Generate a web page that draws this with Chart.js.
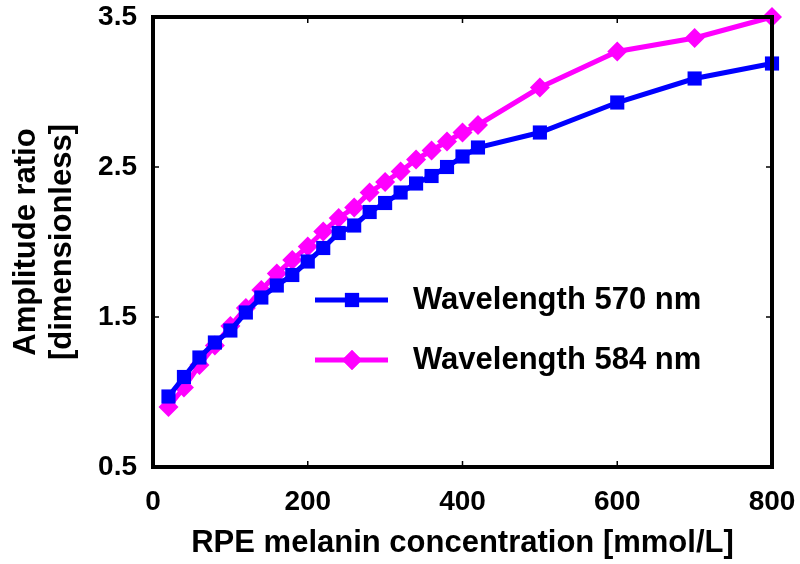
<!DOCTYPE html>
<html>
<head>
<meta charset="utf-8">
<script src="https://cdn.jsdelivr.net/npm/chart.js@4/dist/chart.umd.min.js"></script>
<style>
  html, body { margin: 0; padding: 0; background: #fff; }
  #wrap { width: 800px; height: 564px; }
</style>
</head>
<body>
<div id="wrap"><canvas id="chart" width="800" height="564"></canvas></div>
<script>
const concentrations = [20, 40, 60, 80, 100, 120, 140, 160, 180, 200, 220, 240, 260, 280, 300, 320, 340, 360, 380, 400, 420, 500, 600, 700, 800];
const ratio570 = [0.97, 1.10, 1.23, 1.33, 1.41, 1.53, 1.63, 1.71, 1.78, 1.87, 1.96, 2.06, 2.11, 2.20, 2.26, 2.33, 2.39, 2.44, 2.50, 2.57, 2.63, 2.73, 2.93, 3.09, 3.19];
const ratio584 = [0.90, 1.03, 1.18, 1.31, 1.44, 1.56, 1.68, 1.79, 1.88, 1.97, 2.07, 2.16, 2.23, 2.33, 2.40, 2.47, 2.55, 2.61, 2.67, 2.73, 2.78, 3.03, 3.27, 3.36, 3.50];
const seriesLabels = ["Wavelength 570 nm", "Wavelength 584 nm"];
const xTicks = [0, 200, 400, 600, 800];
const yTicks = [0.5, 1.5, 2.5, 3.5];

const FONT = "'Liberation Sans', Arial, sans-serif";

function toPoints(values) {
  return concentrations.map((x, i) => ({ x, y: values[i] }));
}

// frame, inward ticks and the legend drawn inside the plot
const framePlugin = {
  id: "frame",
  afterDraw(chart) {
    const { ctx, chartArea: a, scales } = chart;
    ctx.save();
    ctx.strokeStyle = "#000";
    ctx.lineWidth = 1.5;
    ctx.beginPath();
    xTicks.slice(1, -1).forEach((v) => {
      const px = scales.x.getPixelForValue(v);
      ctx.moveTo(px, a.bottom); ctx.lineTo(px, a.bottom - 6);
      ctx.moveTo(px, a.top); ctx.lineTo(px, a.top + 6);
    });
    yTicks.slice(1, -1).forEach((v) => {
      const py = scales.y.getPixelForValue(v);
      ctx.moveTo(a.left, py); ctx.lineTo(a.left + 6, py);
      ctx.moveTo(a.right, py); ctx.lineTo(a.right - 6, py);
    });
    ctx.stroke();
    ctx.lineWidth = 4;
    ctx.strokeRect(a.left, a.top, a.right - a.left, a.bottom - a.top);

    // legend
    chart.data.datasets.forEach((ds, i) => {
      const y = 300 + i * 60;
      ctx.strokeStyle = ds.borderColor;
      ctx.lineWidth = 5;
      ctx.beginPath();
      ctx.moveTo(315, y); ctx.lineTo(388, y);
      ctx.stroke();
      ctx.fillStyle = ds.pointBackgroundColor;
      Chart.helpers.drawPoint(ctx, { pointStyle: ds.pointStyle, radius: ds.pointRadius, borderWidth: 0 }, 352, y);
      ctx.fill();
      ctx.fillStyle = "#000";
      ctx.font = "bold 31px " + FONT;
      ctx.textBaseline = "middle";
      ctx.textAlign = "left";
      ctx.fillText(ds.label, 413, y);
    });
    ctx.restore();
  },
};

new Chart(document.getElementById("chart"), {
  type: "line",
  data: {
    datasets: [
      {
        label: seriesLabels[0],
        data: toPoints(ratio570),
        borderColor: "#0000ff",
        backgroundColor: "#0000ff",
        pointBackgroundColor: "#0000ff",
        pointBorderWidth: 0,
        pointStyle: "rect",
        pointRadius: 10,
        borderWidth: 5,
        clip: false,
      },
      {
        label: seriesLabels[1],
        data: toPoints(ratio584),
        borderColor: "#ff00ff",
        backgroundColor: "#ff00ff",
        pointBackgroundColor: "#ff00ff",
        pointBorderWidth: 0,
        pointStyle: "rectRot",
        pointRadius: 10,
        borderWidth: 5,
        clip: false,
      },
    ],
  },
  options: {
    responsive: false,
    animation: false,
    layout: { padding: { left: 0, right: 28, top: 17, bottom: 0 } },
    plugins: { legend: { display: false }, tooltip: { enabled: false } },
    scales: {
      x: {
        type: "linear",
        min: 0,
        max: 800,
        afterBuildTicks: (s) => { s.ticks = xTicks.map((v) => ({ value: v })); },
        afterFit: (s) => {
          s.height = 97;
          s.paddingLeft = 0;
          s.paddingRight = 0;
        },
        grid: { display: false, drawTicks: false },
        border: { display: false },
        ticks: { color: "#000", padding: 18, font: { family: FONT, size: 28, weight: "bold" } },
        title: {
          display: true,
          text: "RPE melanin concentration [mmol/L]",
          color: "#000",
          padding: { top: 0, bottom: 3 },
          font: { family: FONT, size: 31, weight: "bold", lineHeight: 1.15 },
        },
      },
      y: {
        min: 0.5,
        max: 3.5,
        afterBuildTicks: (s) => { s.ticks = yTicks.map((v) => ({ value: v })); },
        afterFit: (s) => {
          s.width = 153;
          s.paddingTop = 0;
          s.paddingBottom = 0;
        },
        grid: { display: false, drawTicks: false },
        border: { display: false },
        ticks: {
          color: "#000",
          padding: 16,
          font: { family: FONT, size: 28, weight: "bold" },
          callback: (v) => v.toFixed(1),
        },
        title: {
          display: true,
          text: ["Amplitude ratio", "[dimensionless]"],
          color: "#000",
          padding: { top: 9, bottom: 0 },
          font: { family: FONT, size: 31, weight: "bold", lineHeight: 1.15 },
        },
      },
    },
  },
  plugins: [framePlugin],
});
</script>
</body>
</html>
